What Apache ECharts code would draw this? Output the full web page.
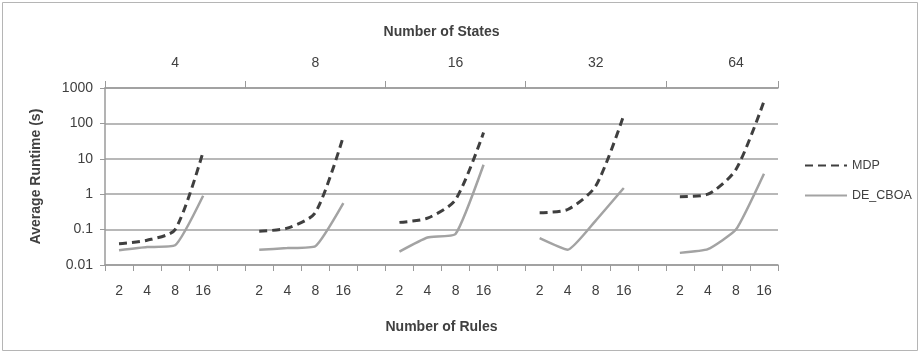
<!DOCTYPE html>
<html>
<head>
<meta charset="utf-8">
<script src="https://cdn.jsdelivr.net/npm/echarts@6/dist/echarts.min.js"></script>
<style>
  html, body { margin: 0; padding: 0; background: #fff; }
  #chart { width: 921px; height: 355px; }
</style>
</head>
<body>
<div id="chart"></div>
<script>
// Number of rules within each state group, and the state groups
const rules = ['2', '4', '8', '16'];
const states = ['4', '8', '16', '32', '64'];
const yTickLabels = ['0.01', '0.1', '1', '10', '100', '1000'];

// Average runtime (s) of MDP, one array per number of states (rules 2, 4, 8, 16)
const mdpS4 = [0.04, 0.05, 0.1, 16];
const mdpS8 = [0.09, 0.11, 0.3, 43];
const mdpS16 = [0.16, 0.21, 0.7, 55];
const mdpS32 = [0.3, 0.37, 1.7, 170];
const mdpS64 = [0.85, 1.0, 5, 420];

// Average runtime (s) of DE_CBOA
const deS4 = [0.026, 0.032, 0.036, 0.9];
const deS8 = [0.027, 0.03, 0.034, 0.56];
const deS16 = [0.024, 0.06, 0.075, 6.8];
const deS32 = [0.057, 0.027, 0.18, 1.5];
const deS64 = [0.022, 0.028, 0.1, 3.8];

const mdpGroups = [mdpS4, mdpS8, mdpS16, mdpS32, mdpS64];
const deGroups = [deS4, deS8, deS16, deS32, deS64];

// Flatten groups into one category axis with an empty slot between groups
const rulesAxis = [];
const statesAxis = [];
function flatten(groups) {
  const out = [];
  groups.forEach((g, gi) => {
    g.forEach(v => out.push(v));
    if (gi < groups.length - 1) out.push(null);
  });
  return out;
}
states.forEach((s, gi) => {
  rules.forEach((r, ri) => {
    rulesAxis.push(r);
    statesAxis.push(ri === 2 ? s : '');
  });
  if (gi < states.length - 1) { rulesAxis.push(''); statesAxis.push(''); }
});

const fontFamily = 'Liberation Sans, Arial, sans-serif';
const labelFont = { fontFamily, fontSize: 14, color: '#404040' };
const titleFont = { fontFamily, fontSize: 14, fontWeight: 'bold', color: '#404040' };
const axisGray = '#9a9a9a';

const chart = echarts.init(document.getElementById('chart'), null, { renderer: 'canvas' });
chart.setOption({
  animation: false,
  backgroundColor: '#ffffff',
  graphic: [{
    type: 'rect',
    shape: { x: 2.5, y: 2.5, width: 915, height: 348 },
    style: { fill: 'none', stroke: '#b5b5b5', lineWidth: 1 },
    silent: true
  }],
  grid: { left: 105, right: 143, top: 88, bottom: 90 },
  legend: {
    orient: 'vertical',
    left: 799,
    top: 154,
    itemWidth: 42,
    itemHeight: 14,
    itemGap: 17,
    itemStyle: { opacity: 0 },
    textStyle: { fontFamily, fontSize: 12.5, color: '#404040' },
    data: ['MDP', 'DE_CBOA']
  },
  xAxis: [{
    type: 'category',
    position: 'bottom',
    data: rulesAxis,
    boundaryGap: true,
    name: 'Number of Rules',
    nameLocation: 'middle',
    nameGap: 55,
    nameTextStyle: titleFont,
    axisLine: { show: true, lineStyle: { color: axisGray, width: 1.5 } },
    axisTick: { show: true, length: 6, interval: 0, lineStyle: { color: axisGray } },
    axisLabel: Object.assign({ interval: 0, margin: 19 }, labelFont),
    splitLine: { show: false }
  }, {
    type: 'category',
    position: 'top',
    data: statesAxis,
    boundaryGap: true,
    name: 'Number of States',
    nameLocation: 'middle',
    nameGap: 49,
    nameTextStyle: titleFont,
    axisLine: { show: true, lineStyle: { color: axisGray, width: 1.5 } },
    axisTick: { show: true, length: 7, interval: (idx) => idx % 5 === 0, lineStyle: { color: axisGray } },
    axisLabel: Object.assign({ interval: 0, margin: 18 }, labelFont),
    splitLine: { show: false }
  }],
  yAxis: {
    type: 'log',
    logBase: 10,
    min: 0.01,
    max: 1000,
    name: 'Average Runtime (s)',
    nameLocation: 'middle',
    nameGap: 62,
    nameRotate: 90,
    nameTextStyle: titleFont,
    axisLine: { show: true, lineStyle: { color: axisGray, width: 1.5 } },
    axisTick: { show: true, length: 5, lineStyle: { color: axisGray } },
    axisLabel: Object.assign({
      margin: 12,
      formatter: (v) => yTickLabels[Math.round(Math.log10(v)) + 2]
    }, labelFont),
    splitLine: { show: true, lineStyle: { color: '#a0a0a0', width: 1.5 } }
  },
  series: [{
    name: 'MDP',
    type: 'line',
    data: flatten(mdpGroups),
    connectNulls: false,
    smooth: 0.25,
    symbol: 'none',
    color: '#3f3f3f',
    lineStyle: { color: '#3f3f3f', width: 3, type: [8, 5] }
  }, {
    name: 'DE_CBOA',
    type: 'line',
    data: flatten(deGroups),
    connectNulls: false,
    smooth: 0.15,
    symbol: 'none',
    color: '#a3a3a3',
    lineStyle: { color: '#a3a3a3', width: 2.5 }
  }]
});
</script>
</body>
</html>
